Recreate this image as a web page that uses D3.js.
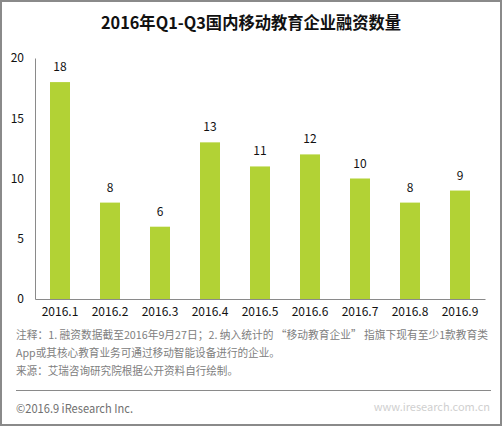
<!DOCTYPE html>
<html><head><meta charset="utf-8">
<script src="https://cdn.jsdelivr.net/npm/d3@7"></script>
<style>
html,body{margin:0;padding:0;background:#fff;}
svg{display:block;font-family:"Noto Sans CJK SC","Microsoft YaHei",sans-serif;}
</style></head>
<body>
<svg id="c" width="502" height="426"></svg>
<script>
const title = "2016年Q1-Q3国内移动教育企业融资数量";
const categories = ["2016.1","2016.2","2016.3","2016.4","2016.5","2016.6","2016.7","2016.8","2016.9"];
const values = [18, 8, 6, 13, 11, 12, 10, 8, 9];
const yTicks = [0, 5, 10, 15, 20];
const notes = [
  "注释：1. 融资数据截至2016年9月27日；2. 纳入统计的 “移动教育企业” 指旗下现有至少1款教育类",
  "App或其核心教育业务可通过移动智能设备进行的企业。",
  "来源：艾瑞咨询研究院根据公开资料自行绘制。"
];
const copyright = "©2016.9 iResearch Inc.";

const svg = d3.select("#c");
svg.append("rect").attr("x",1).attr("y",1).attr("width",500).attr("height",424)
  .attr("fill","#fff").attr("stroke","#8a8a8a").attr("stroke-width",2);

svg.append("text").attr("x",251).attr("y",29).attr("text-anchor","middle")
  .attr("font-size",16.5).attr("font-weight","bold").attr("fill","#111")
  .attr("textLength",300).attr("lengthAdjust","spacingAndGlyphs").text(title);

const x = d3.scaleBand().domain(categories).range([35,485]).paddingInner(0.6).paddingOuter(0.3);
const y = d3.scaleLinear().domain([0,20]).range([299,58]);

const g = svg.append("g");
g.selectAll("rect.bar").data(values).join("rect").attr("class","bar")
  .attr("x",(d,i)=>x(categories[i])).attr("width",x.bandwidth())
  .attr("y",d=>y(d)).attr("height",d=>y(0)-y(d)).attr("fill","#b2d235");

g.selectAll("text.val").data(values).join("text").attr("class","val")
  .attr("x",(d,i)=>x(categories[i])+x.bandwidth()/2).attr("y",d=>y(d)-11)
  .attr("text-anchor","middle").attr("font-size",12).attr("fill","#111").text(d=>d);

// axes
const yAxis = svg.append("g").attr("transform","translate(35,0)")
  .call(d3.axisLeft(y).tickValues(yTicks).tickSize(0).tickPadding(11));
yAxis.select(".domain").attr("stroke","#8a8a8a");
yAxis.selectAll("text").attr("font-size",12).attr("fill","#111").attr("font-family","'Noto Sans CJK SC',sans-serif");

const xAxis = svg.append("g").attr("transform","translate(0,299)")
  .call(d3.axisBottom(x).tickSize(0).tickPadding(8));
xAxis.select(".domain").attr("stroke","#8a8a8a");
xAxis.selectAll("text").attr("font-size",12).attr("fill","#111").attr("font-family","'Noto Sans CJK SC',sans-serif");

// notes
const ny = [339, 357, 375];
const nw = [472, 264, 222];
notes.forEach((t,i)=>{
  svg.append("text").attr("x",16).attr("y",ny[i]).attr("font-size",11).attr("fill","#808080")
    .attr("textLength",nw[i]).attr("lengthAdjust","spacingAndGlyphs").text(t);
});
svg.append("line").attr("x1",16).attr("x2",491).attr("y1",390.5).attr("y2",390.5)
  .attr("stroke","#8a8a8a").attr("stroke-width",1);
svg.append("text").attr("x",16).attr("y",413).attr("font-size",12).attr("fill","#707070")
  .attr("textLength",117).attr("lengthAdjust","spacingAndGlyphs").text(copyright);
// faint watermark
svg.append("text").attr("x",490).attr("y",411).attr("text-anchor","end").attr("font-size",11)
  .attr("fill","#d0d0d0").text("www.iresearch.com.cn");
</script>
</body></html>
